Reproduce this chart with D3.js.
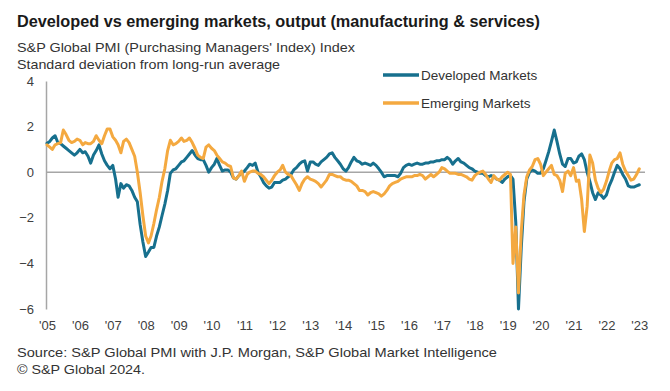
<!DOCTYPE html>
<html>
<head>
<meta charset="utf-8">
<script src="https://cdn.jsdelivr.net/npm/d3@7"></script>
<style>
  html, body { margin: 0; padding: 0; background: #ffffff; }
  svg { display: block; }
  text { font-family: "Liberation Sans", Arial, sans-serif; }
</style>
</head>
<body>
<svg id="chart" width="670" height="391"></svg>
<script>
// ---- Data (monthly, first point = Jan '05 on the chart's axis) ----
const startYear = 2005;
const yearLabels = ["'05","'06","'07","'08","'09","'10","'11","'12","'13","'14","'15","'16","'17","'18","'19","'20","'21","'22","'23"];
const yTicks = [-6, -4, -2, 0, 2, 4];
const seriesNames = ["Developed Markets", "Emerging Markets"];

const developed = [
  1.27,1.35,1.5,1.6,1.3,1.25,1.15,1.05,0.95,0.85,0.75,0.85,
  1.0,0.85,0.9,0.7,0.4,0.75,0.95,1.2,0.8,0.5,0.3,0.15,
  0.3,-0.3,-1.1,-0.5,-0.7,-0.55,-0.6,-0.8,-1.1,-1.3,-2.3,-3.05,
  -3.7,-3.5,-3.3,-3.3,-2.8,-2.4,-1.9,-1.4,-0.8,-0.05,0.1,0.15,
  0.3,0.45,0.5,0.65,0.8,0.95,0.75,0.6,0.55,0.55,0.3,0.0,
  0.2,0.35,0.6,0.3,0.05,0.1,0.1,0.0,-0.25,-0.3,-0.15,-0.05,
  0.05,0.2,0.35,0.3,0.4,0.0,-0.2,-0.45,-0.6,-0.7,-0.65,-0.45,
  -0.45,-0.45,-0.35,-0.3,-0.2,-0.1,0.1,0.2,0.35,0.45,0.5,0.05,
  0.45,0.45,0.35,0.3,0.45,0.55,0.65,0.8,0.85,0.65,0.5,0.35,
  0.15,0.05,0.2,0.45,0.65,0.5,0.45,0.35,0.4,0.35,0.3,0.4,
  0.3,0.15,0.0,-0.2,-0.15,-0.15,-0.15,-0.15,-0.2,-0.05,0.2,0.3,
  0.35,0.3,0.35,0.4,0.35,0.35,0.4,0.4,0.45,0.45,0.5,0.5,
  0.55,0.55,0.65,0.55,0.35,0.5,0.6,0.45,0.4,0.3,0.2,0.15,
  0.05,0.0,-0.05,-0.05,-0.15,-0.2,-0.15,-0.2,-0.3,-0.35,-0.45,-0.3,
  -0.2,-0.15,-0.3,-2.2,-6.0,-3.3,-1.3,-0.3,0.0,0.1,0.05,-0.05,
  -0.05,0.15,0.5,0.9,1.35,1.85,1.35,0.8,0.35,0.25,0.6,0.6,
  0.4,0.45,0.7,0.8,0.55,0.0,-0.4,-0.9,-1.2,-0.9,-1.0,-1.15,
  -1.0,-0.6,-0.35,0.0,0.3,0.15,-0.1,-0.3,-0.6,-0.65,-0.65,-0.6,
  -0.55
];

const emerging = [
  1.2,1.1,1.0,1.2,1.25,1.3,1.85,1.65,1.4,1.3,1.35,1.45,
  1.4,1.2,1.3,1.25,1.25,1.35,1.6,1.4,1.25,1.6,1.9,1.9,
  1.55,1.4,1.2,0.85,1.35,1.45,1.3,1.0,0.7,0.0,-0.9,-1.9,
  -2.8,-3.1,-2.8,-2.25,-1.65,-1.1,-0.4,0.15,0.95,1.4,1.2,1.25,
  1.35,1.5,1.35,1.4,1.5,1.3,1.05,0.75,0.65,0.6,1.1,1.2,
  1.05,0.95,0.75,0.6,0.45,0.4,0.3,0.25,-0.25,-0.3,-0.15,0.05,
  -0.4,-0.1,0.0,0.05,0.05,-0.05,-0.1,-0.2,-0.35,-0.5,-0.35,-0.15,
  0.0,0.1,0.3,0.0,-0.1,-0.15,-0.35,-0.55,-0.8,-0.5,-0.3,-0.2,
  -0.3,-0.35,-0.4,-0.5,-0.65,-0.5,-0.35,-0.1,-0.1,-0.15,-0.2,-0.2,
  -0.3,-0.35,-0.35,-0.4,-0.5,-0.6,-0.8,-0.8,-0.85,-1.0,-0.9,-0.85,
  -0.9,-0.95,-1.05,-0.95,-0.8,-0.6,-0.5,-0.45,-0.4,-0.3,-0.25,-0.2,
  -0.2,-0.2,-0.15,-0.15,-0.1,-0.15,-0.3,-0.2,-0.1,-0.2,-0.1,0.0,
  0.2,0.15,0.05,-0.05,-0.05,-0.05,-0.1,-0.1,-0.15,-0.2,-0.3,-0.35,
  -0.15,-0.05,0.0,0.05,-0.1,-0.3,-0.45,-0.15,-0.3,-0.35,-0.2,-0.1,
  0.0,-0.1,-4.0,-2.4,-5.3,-2.6,-1.0,-0.2,0.1,0.25,0.55,0.6,
  0.35,-0.15,0.0,0.15,0.3,-0.1,-0.15,-0.35,-0.85,-0.05,0.05,-0.15,
  0.2,-0.4,-0.35,-1.2,-2.6,-1.5,0.75,0.4,-0.35,-0.7,-0.9,-0.75,
  -0.4,0.05,0.4,0.55,0.6,0.85,0.35,0.05,-0.15,-0.35,-0.3,-0.1,
  0.15
];

const colors = { dm: "#17708e", em: "#f4a940" };

// ---- Layout ----
const svg = d3.select("#chart");
const plot = { left: 46, right: 639.3, top: 81, bottom: 309 };

const t0 = new Date(startYear, 0, 1);
const t1 = new Date(startYear + yearLabels.length - 1, 0, 1);
const x = d3.scaleTime().domain([t0, t1]).range([plot.left + 1, plot.right]);
const y = d3.scaleLinear().domain([-6, 4]).range([plot.bottom, plot.top]);

const dateAt = i => d3.timeMonth.offset(t0, i);
const dmData = developed.map((v, i) => ({ d: dateAt(i), v }));
const emData = emerging.map((v, i) => ({ d: dateAt(i), v }));

// Title & subtitles
svg.append("text").attr("x", 17).attr("y", 27)
  .attr("font-size", 16).attr("font-weight", "bold").attr("fill", "#1a1a1a")
  .attr("textLength", 523).attr("lengthAdjust", "spacingAndGlyphs")
  .text("Developed vs emerging markets, output (manufacturing & services)");
svg.append("text").attr("x", 17).attr("y", 52)
  .attr("font-size", 13).attr("fill", "#333")
  .attr("textLength", 338).attr("lengthAdjust", "spacingAndGlyphs")
  .text("S&P Global  PMI (Purchasing Managers' Index) Index");
svg.append("text").attr("x", 17).attr("y", 69)
  .attr("font-size", 13).attr("fill", "#333")
  .attr("textLength", 263).attr("lengthAdjust", "spacingAndGlyphs")
  .text("Standard deviation  from long-run average");

// Y axis
const yAxis = d3.axisLeft(y).tickValues(yTicks).tickSize(0).tickPadding(12);
const gy = svg.append("g").attr("transform", `translate(${plot.left},0)`).call(yAxis);
gy.select(".domain").attr("stroke", "#a6a6a6").attr("stroke-width", 1.5);
gy.selectAll("text").attr("font-size", 13).attr("fill", "#404040")
  .attr("font-family", "'Liberation Sans', Arial, sans-serif");

// Zero line
svg.append("line")
  .attr("x1", plot.left).attr("x2", 645)
  .attr("y1", y(0)).attr("y2", y(0))
  .attr("stroke", "#a6a6a6").attr("stroke-width", 1.5);

// X axis labels
const xAxis = d3.axisBottom(x)
  .tickValues(yearLabels.map((_, i) => new Date(startYear + i, 0, 1)))
  .tickFormat((d, i) => yearLabels[i]).tickSize(0).tickPadding(12);
const gx = svg.append("g").attr("transform", `translate(0,${plot.bottom})`).call(xAxis);
gx.select(".domain").remove();
gx.selectAll("text").attr("font-size", 13).attr("fill", "#404040")
  .attr("font-family", "'Liberation Sans', Arial, sans-serif");

// Lines
const line = d3.line().x(p => x(p.d)).y(p => y(p.v));
svg.append("path").datum(dmData).attr("d", line)
  .attr("fill", "none").attr("stroke", colors.dm).attr("stroke-width", 3)
  .attr("stroke-linejoin", "round").attr("stroke-linecap", "round");
svg.append("path").datum(emData).attr("d", line)
  .attr("fill", "none").attr("stroke", colors.em).attr("stroke-width", 3)
  .attr("stroke-linejoin", "round").attr("stroke-linecap", "round");

// Legend
const legend = [
  { name: seriesNames[0], color: colors.dm, y: 75 },
  { name: seriesNames[1], color: colors.em, y: 103 }
];
const lg = svg.append("g");
legend.forEach(l => {
  lg.append("line").attr("x1", 383).attr("x2", 419).attr("y1", l.y).attr("y2", l.y)
    .attr("stroke", l.color).attr("stroke-width", 3.5);
  lg.append("text").attr("x", 421).attr("y", l.y + 5)
    .attr("font-size", 13.5).attr("fill", "#333").text(l.name);
});

// Footer
svg.append("text").attr("x", 17).attr("y", 357)
  .attr("font-size", 13).attr("fill", "#333")
  .attr("textLength", 480).attr("lengthAdjust", "spacingAndGlyphs")
  .text("Source: S&P Global  PMI with J.P. Morgan, S&P Global Market  Intelligence");
svg.append("text").attr("x", 17).attr("y", 374)
  .attr("font-size", 13).attr("fill", "#333")
  .attr("textLength", 128).attr("lengthAdjust", "spacingAndGlyphs")
  .text("© S&P Global  2024.");
</script>
</body>
</html>
